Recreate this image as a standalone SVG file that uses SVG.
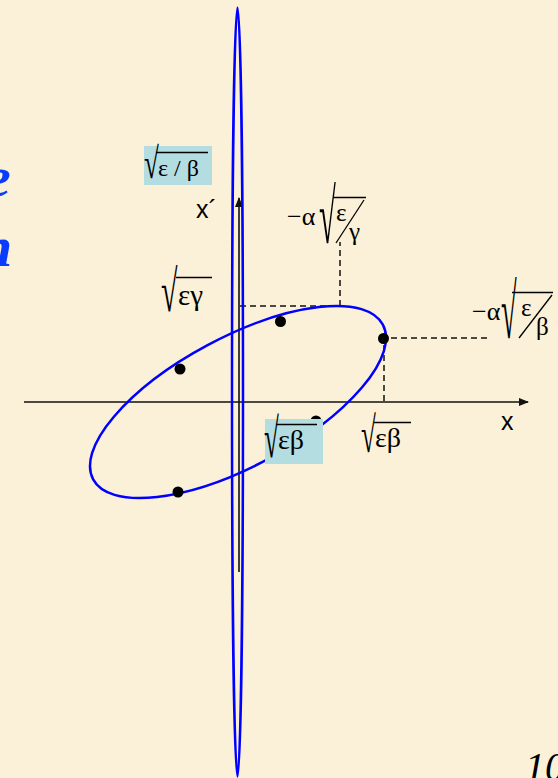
<svg xmlns="http://www.w3.org/2000/svg" width="558" height="778" viewBox="0 0 558 778">
<defs>
<style>
.bg{fill:#fbf0d8}
.ell{fill:none;stroke:#0000ff;stroke-width:2.5}
.ax{stroke:#111;stroke-width:1.6;fill:none}
.dash{stroke:#111;stroke-width:1.5;stroke-dasharray:6 4;fill:none}
.dot{fill:#000}
.box{fill:#b3dde1}
.g{font-family:"Liberation Serif","Times New Roman",serif;fill:#000}
.rad{font-family:"Liberation Serif","Times New Roman",serif;fill:#000;font-size:30px}
.s{font-family:"Liberation Sans",Arial,sans-serif;fill:#000}
.bar{stroke:#000;stroke-width:1.3}
.title{font-family:"Liberation Serif","Times New Roman",serif;font-style:italic;font-weight:bold;fill:#0a3cff}
</style>
<marker id="arr" markerWidth="10" markerHeight="8" refX="9" refY="4" orient="auto" markerUnits="userSpaceOnUse">
<path d="M0,0 L10,4 L0,8 Z" fill="#111"/>
</marker>
</defs>
<rect class="bg" width="558" height="778"/>
<g id="title-fragments">
<text class="title" x="-15" y="196" font-size="58">e</text>
<text class="title" x="-20" y="266" font-size="58">n</text>
<text class="g" x="525" y="780" font-size="40" font-style="italic">10</text>
</g>
<g id="connectors">
<line class="ax" x1="24" y1="402" x2="528" y2="402" marker-end="url(#arr)"/>
<line class="ax" x1="239" y1="572" x2="239" y2="198" marker-end="url(#arr)"/>
<polyline class="dash" points="240,306 340,306 340,242"/>
<polyline class="dash" points="487,338 384,338 384,401"/>
</g>
<g id="tall-ellipse">
<ellipse class="ell" cx="237.5" cy="392" rx="5.5" ry="384.5"/>
</g>
<g id="phase-ellipse">
<ellipse class="ell" cx="238" cy="402" rx="164.2" ry="64.5" transform="rotate(-28.1 238 402)" stroke-width="2.2"/>
<circle class="dot" cx="280.5" cy="321.5" r="5.5"/>
<circle class="dot" cx="180" cy="369" r="5.5"/>
<circle class="dot" cx="178" cy="492" r="5.5"/>
<circle class="dot" cx="383.5" cy="338.5" r="5.5"/>
<circle class="dot" cx="316" cy="421" r="5.5"/>
</g>
<g id="label-sqrt-eps-over-beta">
<rect class="box" x="144" y="146" width="68" height="39"/>
<text class="rad" transform="translate(144,178) scale(0.9,1.44)">√</text>
<line class="bar" x1="156" y1="152.5" x2="208" y2="152.5"/>
<text class="g" x="158" y="176" font-size="24">ε / β</text>
</g>
<g id="label-xprime">
<text class="s" x="196" y="218" font-size="25">x´</text>
</g>
<g id="label-sqrt-eps-gamma">
<text class="rad" transform="translate(161,311) scale(1,1.94)">√</text>
<line class="bar" x1="176" y1="277.5" x2="212" y2="277.5"/>
<text class="g" x="178" y="305" font-size="29">εγ</text>
</g>
<g id="label-alpha-eps-gamma">
<text class="g" x="287" y="225" font-size="26">−α</text>
<text class="rad" transform="translate(319,243) scale(1.02,2.56)">√</text>
<line class="bar" x1="333" y1="197.5" x2="366" y2="197.5"/>
<line class="bar" x1="364" y1="200" x2="336" y2="243"/>
<text class="g" x="336" y="221" font-size="25">ε</text>
<text class="g" x="349" y="240" font-size="25">γ</text>
</g>
<g id="label-alpha-eps-beta">
<text class="g" x="472" y="320" font-size="26">−α</text>
<text class="rad" transform="translate(501,338) scale(0.95,2.56)">√</text>
<line class="bar" x1="512" y1="292.5" x2="553" y2="292.5"/>
<line class="bar" x1="552" y1="295" x2="519" y2="338"/>
<text class="g" x="521" y="316" font-size="25">ε</text>
<text class="g" x="536" y="335" font-size="25">β</text>
</g>
<g id="label-x">
<text class="s" x="501" y="430" font-size="25">x</text>
</g>
<g id="label-sqrt-eps-beta">
<text class="rad" transform="translate(361,452) scale(0.9,1.67)">√</text>
<line class="bar" x1="374" y1="422.5" x2="411" y2="422.5"/>
<text class="g" x="375" y="447" font-size="28">εβ</text>
</g>
<g id="label-sqrt-eps-beta-box">
<rect class="box" x="265" y="419" width="58" height="45"/>
<text class="rad" transform="translate(264,457) scale(0.9,1.83)">√</text>
<line class="bar" x1="276" y1="424.5" x2="317" y2="424.5"/>
<text class="g" x="278" y="449" font-size="28">εβ</text>
</g>
</svg>
